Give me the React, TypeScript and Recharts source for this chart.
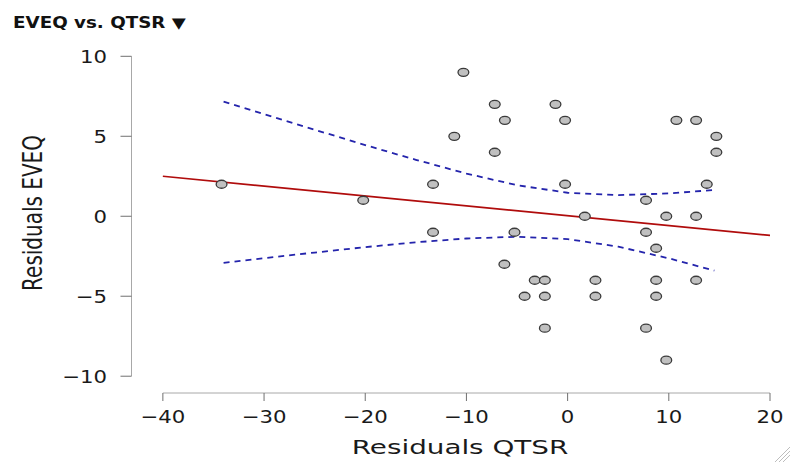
import { ScatterChart, Scatter, XAxis, YAxis, ReferenceLine } from 'recharts'

// residual pairs
const qtsrResid = [
  -34.2, -20.2, -13.3, -13.3, -11.2, -10.3, -7.2, -7.2, -6.2, -6.25, -5.25, -4.25, -3.25,
  -2.25, -2.25, -2.25, -1.2, -0.25, -0.25, 1.7, 2.75, 2.75, 7.75, 7.75, 7.75, 8.75, 8.75,
  8.75, 9.75, 9.75, 10.75, 12.7, 12.7, 12.7, 13.75, 14.7, 14.7,
]
const eveqResid = [
  2, 1, 2, -1, 5, 9, 7, 4, 6, -3, -1, -5, -4,
  -4, -5, -7, 7, 6, 2, 0, -4, -5, 1, -1, -7, -2, -4,
  -5, 0, -9, 6, 6, 0, -4, 2, 5, 4,
]

// fitted line and its confidence band
const fitX = [-40, 20]
const fitY = [2.5, -1.2]
const bandX = [-34, -30, -25, -20, -15, -10, -5, 0, 5, 10, 14.5]
const bandUpper = [7.17, 6.38, 5.41, 4.45, 3.53, 2.67, 1.94, 1.47, 1.32, 1.43, 1.64]
const bandLower = [-2.91, -2.62, -2.27, -1.93, -1.63, -1.39, -1.28, -1.43, -1.9, -2.63, -3.4]

const xTicks = [-40, -30, -20, -10, 0, 10, 20]
const yTicks = [-10, -5, 0, 5, 10]

const X_MIN = -43.1
const Y_MIN = -11.05

const FONT = '"DejaVu Sans", sans-serif'
const AXIS_GRAY = '#a8a8a8'
const TICK_GRAY = '#707070'
const RED = '#b00c0c'
const BLUE = '#2424ac'

const points = qtsrResid.map((x, i) => ({ x, y: eveqResid[i] }))
const fitData = fitX.map((x, i) => ({ x, y: fitY[i] }))
const upperData = bandX.map((x, i) => ({ x, y: bandUpper[i] }))
const lowerData = bandX.map((x, i) => ({ x, y: bandLower[i] }))

const fmt = (v: number) => (v < 0 ? `\u2212${Math.abs(v)}` : `${v}`)

function XTick({ x, y, payload }: any) {
  return (
    <text
      transform={`translate(${x},${y}) scale(1.18,1)`}
      textAnchor="middle"
      dy="0.75em"
      fontSize={18}
      fontFamily={FONT}
      fill="#1a1a1a"
    >
      {fmt(payload.value)}
    </text>
  )
}

function YTick({ x, y, payload }: any) {
  return (
    <text
      transform={`translate(${x},${y}) scale(1.18,1)`}
      textAnchor="end"
      dy="0.36em"
      fontSize={18}
      fontFamily={FONT}
      fill="#1a1a1a"
    >
      {fmt(payload.value)}
    </text>
  )
}

function XTitle() {
  return (
    <text
      transform="translate(460,454) scale(1.39,1)"
      textAnchor="middle"
      fontSize={20}
      fontFamily={FONT}
      fill="#1a1a1a"
    >
      Residuals QTSR
    </text>
  )
}

function YTitle() {
  return (
    <text
      transform="translate(41.7,213) scale(1.37,1) rotate(-90)"
      textAnchor="middle"
      fontSize={20}
      fontFamily={FONT}
      fill="#1a1a1a"
    >
      Residuals EVEQ
    </text>
  )
}

const Dot = ({ cx, cy }: any) => (
  <ellipse cx={cx} cy={cy} rx={5.4} ry={4} fill="#c0c0c0" stroke="#3a3a3a" strokeWidth={1.3} />
)

const NoDot = () => <g />

export default function App() {
  return (
    <div style={{ position: 'absolute', left: 0, top: 0, width: 791, height: 462, background: '#fff' }}>
      <ScatterChart
        width={791}
        height={462}
        margin={{ top: 56.3, right: 21, bottom: 0, left: 0 }}
      >
        <XAxis
          type="number"
          dataKey="x"
          domain={[X_MIN, 20]}
          ticks={xTicks}
          allowDataOverflow
          axisLine={false}
          tickLine={{ stroke: TICK_GRAY }}
          tickSize={8}
          tickMargin={8.5}
          tick={<XTick />}
          height={69}
          label={<XTitle />}
        />
        <YAxis
          type="number"
          dataKey="y"
          domain={[Y_MIN, 10]}
          ticks={yTicks}
          allowDataOverflow
          axisLine={false}
          tickLine={{ stroke: TICK_GRAY }}
          tickSize={11}
          tickMargin={13.5}
          tick={<YTick />}
          width={131.5}
          label={<YTitle />}
        />
        <ReferenceLine
          segment={[{ x: -40, y: Y_MIN }, { x: 20, y: Y_MIN }]}
          stroke={AXIS_GRAY}
          strokeWidth={1}
          ifOverflow="visible"
        />
        <ReferenceLine
          segment={[{ x: X_MIN, y: -10 }, { x: X_MIN, y: 10 }]}
          stroke={AXIS_GRAY}
          strokeWidth={1}
          ifOverflow="visible"
        />
        <Scatter
          data={upperData}
          shape={NoDot}
          line={{ stroke: BLUE, strokeWidth: 1.8, strokeDasharray: '6 5' }}
          lineType="joint"
          isAnimationActive={false}
        />
        <Scatter
          data={lowerData}
          shape={NoDot}
          line={{ stroke: BLUE, strokeWidth: 1.8, strokeDasharray: '6 5' }}
          lineType="joint"
          isAnimationActive={false}
        />
        <Scatter
          data={fitData}
          shape={NoDot}
          line={{ stroke: RED, strokeWidth: 1.7 }}
          lineType="joint"
          isAnimationActive={false}
        />
        <Scatter data={points} shape={Dot} isAnimationActive={false} />
      </ScatterChart>

      <svg width={791} height={40} style={{ position: 'absolute', left: 0, top: 0, pointerEvents: 'none' }}>
        <text
          transform="translate(13,28.3) scale(1.22,1)"
          fontSize={15}
          fontWeight="bold"
          fontFamily={FONT}
          fill="#111"
        >
          EVEQ vs. QTSR {'\u25BC'}
        </text>
      </svg>

      <svg width={20} height={20} style={{ position: 'absolute', left: 771, top: 442 }}>
        <line x1={19} y1={5} x2={4} y2={20} stroke="#bdbdbd" strokeWidth={1} />
        <line x1={19} y1={9} x2={8} y2={20} stroke="#bdbdbd" strokeWidth={1} />
        <line x1={19} y1={13} x2={12} y2={20} stroke="#bdbdbd" strokeWidth={1} />
      </svg>
    </div>
  )
}
